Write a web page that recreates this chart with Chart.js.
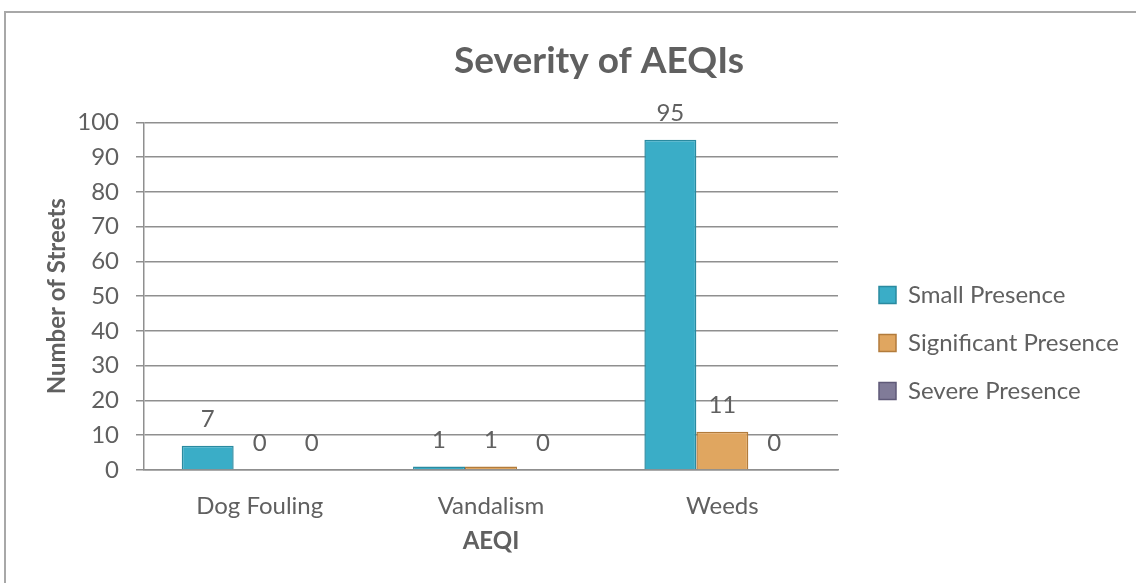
<!DOCTYPE html>
<html>
<head>
<meta charset="utf-8">
<script src="https://cdn.jsdelivr.net/npm/chart.js@4/dist/chart.umd.min.js"></script>
<style>
  html, body { margin: 0; padding: 0; background: #fff; overflow: hidden; width: 1136px; height: 583px; }
  #frame { position: absolute; left: 4px; top: 11px; width: 1300px; height: 800px; border: 2px solid #a8a8a8; box-sizing: border-box; }
  #wrap { position: absolute; left: 0; top: 0; width: 1428px; height: 674px; }
</style>
</head>
<body>
<div id="frame"></div>
<div id="wrap"><canvas id="c" width="1428" height="674"></canvas></div>
<script>
const categories = ['Dog Fouling', 'Vandalism', 'Weeds'];
const seriesNames = ['Small Presence', 'Significant Presence', 'Severe Presence'];
const smallPresence = [7, 1, 95];
const significantPresence = [0, 1, 11];
const severePresence = [0, 0, 0];
const yTicks = [0, 10, 20, 30, 40, 50, 60, 70, 80, 90, 100];

const TEXT = '#606060';
const GRID = '#8f8f8f';
const FONT = 'Lato';

const dataLabels = {
  id: 'dataLabels',
  afterDatasetsDraw(chart) {
    const ctx = chart.ctx;
    ctx.save();
    ctx.font = '24px ' + FONT;
    ctx.fillStyle = TEXT;
    ctx.textAlign = 'center';
    ctx.textBaseline = 'alphabetic';
    chart.data.datasets.forEach((ds, di) => {
      const meta = chart.getDatasetMeta(di);
      meta.data.forEach((el, i) => {
        ctx.fillText(String(ds.data[i]), el.x, el.y - 19);
      });
    });
    ctx.restore();
  }
};

function build() {
  new Chart(document.getElementById('c'), {
    type: 'bar',
    data: {
      labels: categories,
      datasets: [
        { label: seriesNames[0], data: smallPresence, backgroundColor: '#3aadc7', borderColor: '#2a8aa0', borderWidth: 1.5 },
        { label: seriesNames[1], data: significantPresence, backgroundColor: '#e0a660', borderColor: '#b27b3b', borderWidth: 1.5 },
        { label: seriesNames[2], data: severePresence, backgroundColor: '#807b98', borderColor: '#5f5a78', borderWidth: 1.5 }
      ]
    },
    options: {
      responsive: false,
      animation: false,
      devicePixelRatio: 1,
      categoryPercentage: 0.674,
      barPercentage: 1.0,
      layout: { padding: { left: -230, right: 0, top: 12, bottom: 0 } },
      plugins: {
        title: {
          display: true,
          text: 'Severity of AEQIs',
          color: TEXT,
          font: { family: FONT, size: 37, weight: 'bold' },
          padding: { top: 27, bottom: 39 }
        },
        legend: {
          position: 'right',
          align: 'center',
          labels: {
            color: TEXT,
            font: { family: FONT, size: 24 },
            boxWidth: 17,
            boxHeight: 17,
            padding: 24
          }
        },
        tooltip: { enabled: false }
      },
      scales: {
        x: {
          grid: { display: false, drawTicks: false },
          border: { display: true, color: GRID, width: 1.5 },
          ticks: { color: TEXT, font: { family: FONT, size: 24 }, padding: 22 },
          title: {
            display: true, text: 'AEQI', color: TEXT,
            font: { family: FONT, size: 24, weight: 'bold' },
            padding: { top: 0, bottom: 118 }
          },
          afterFit(s) { s.height = 204; s.paddingRight = 590; }
        },
        y: {
          min: 0, max: 100,
          afterBuildTicks(s) { s.ticks = yTicks.map(v => ({ value: v })); },
          grid: { color: GRID, lineWidth: 1.5, drawTicks: true, tickLength: 8, tickColor: GRID },
          border: { display: true, color: GRID, width: 1.5 },
          ticks: { color: TEXT, font: { family: FONT, size: 24 }, padding: 17 },
          title: {
            display: true, text: 'Number of Streets', color: TEXT,
            font: { family: FONT, size: 24, weight: 'bold' },
            padding: { top: 272.6, bottom: 0 }
          },
          afterFit(s) { s.width = 374; }
        },
        gap: {
          position: 'right',
          display: true,
          grid: { display: false, drawTicks: false },
          border: { display: false },
          ticks: { display: false },
          afterFit(s) { s.width = 17; }
        }
      }
    },
    plugins: [dataLabels]
  });
}

if (document.fonts && document.fonts.load) {
  Promise.all([
    document.fonts.load('24px Lato'),
    document.fonts.load('bold 24px Lato')
  ]).then(build, build);
} else {
  build();
}
</script>
</body>
</html>
